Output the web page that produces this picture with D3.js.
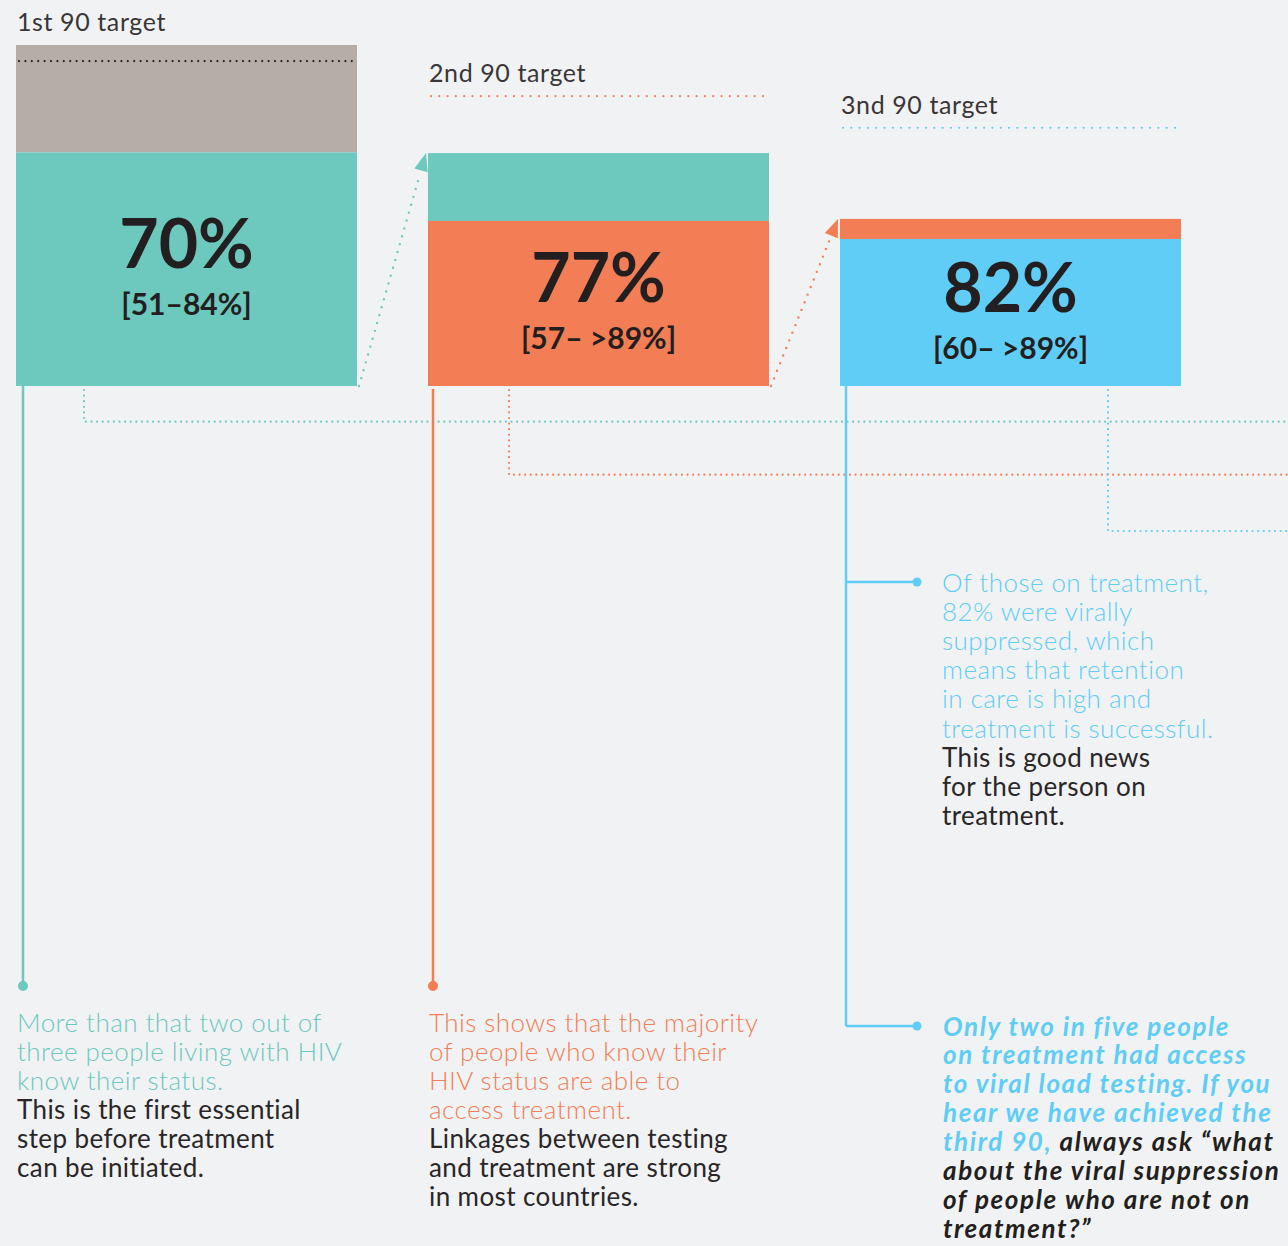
<!DOCTYPE html>
<html>
<head>
<meta charset="utf-8">
<script src="https://cdn.jsdelivr.net/npm/d3@7"></script>
<style>
  html, body { margin: 0; padding: 0; background: #F1F2F4; }
  svg { display: block; }
</style>
</head>
<body>
<svg id="chart" width="1288" height="1246"></svg>
<script>
// ---------------- DATA ----------------
const stages = ["1st 90 target", "2nd 90 target", "3nd 90 target"];
const headlineValues = [70, 77, 82];
const rangeLabels = ["[51–84%]", "[57– >89%]", "[60– >89%]"];
// drawn heights of each bar in the infographic's own vertical units (100 = top of first bar)
const barTotal = [100, 68.3, 49.0];    // top of the whole bar (carried-over block)
const barMain = [68.5, 48.4, 43.1];    // top of the main coloured segment
const targetLevel = [95.3, 85.0, 75.7]; // dotted 90-target line

const note1Highlight = ["More than that two out of", "three people living with HIV", "know their status."];
const note1Body = ["This is the first essential", "step before treatment", "can be initiated."];
const note2Highlight = ["This shows that the majority", "of people who know their", "HIV status are able to", "access treatment."];
const note2Body = ["Linkages between testing", "and treatment are strong", "in most countries."];
const note3Highlight = ["Of those on treatment,", "82% were virally", "suppressed, which", "means that retention", "in care is high and", "treatment is successful."];
const note3Body = ["This is good news", "for the person on", "treatment."];
const note4 = [
  [["Only two in five people", "hi"]],
  [["on treatment had access", "hi"]],
  [["to viral load testing. If you", "hi"]],
  [["hear we have achieved the", "hi"]],
  [["third 90, ", "hi"], ["always ask \u201Cwhat", "body"]],
  [["about the viral suppression", "body"]],
  [["of people who are not on", "body"]],
  [["treatment?\u201D", "body"]]
];

// ---------------- STYLE ----------------
const colTeal = "#6DC8BE", colOrange = "#F37E55", colBlue = "#5FCDF5", colGray = "#B5ADA8", colDark = "#231F20";
const stageColors = [colTeal, colOrange, colBlue];
const prevColors = [colGray, colTeal, colOrange];
const FONT = "Lato, 'Open Sans', sans-serif";

const svg = d3.select("#chart");

const x = d3.scaleBand().domain(stages).range([16, 1181]).paddingInner(71 / 412).paddingOuter(0);
const y = d3.scaleLinear().domain([0, 100]).range([386, 45]);
const bw = x.bandwidth();

const bars = stages.map((s, i) => ({
  stage: s, i,
  x0: x(s), x1: x(s) + bw,
  top: y(barTotal[i]), mid: y(barMain[i]), bottom: y(0),
  target: y(targetLevel[i])
}));

// carried-over (upper) segment
svg.selectAll("rect.upper").data(bars).join("rect")
  .attr("class", "upper")
  .attr("x", d => d.x0).attr("width", bw)
  .attr("y", d => d.top).attr("height", d => d.mid - d.top)
  .attr("fill", d => prevColors[d.i]);

// main segment
svg.selectAll("rect.main").data(bars).join("rect")
  .attr("class", "main")
  .attr("x", d => d.x0).attr("width", bw)
  .attr("y", d => d.mid).attr("height", d => d.bottom - d.mid)
  .attr("fill", d => stageColors[d.i]);

// target lines
svg.selectAll("line.target").data(bars).join("line")
  .attr("class", "target")
  .attr("x1", d => d.x0 + 3).attr("x2", d => d.x1 - 1)
  .attr("y1", d => d.target).attr("y2", d => d.target)
  .attr("stroke", d => d.i === 0 ? colDark : stageColors[d.i])
  .attr("stroke-width", 2.2)
  .attr("stroke-linecap", "round")
  .attr("stroke-dasharray", d => d.i === 0 ? "0 6.4" : "0 8.3");

// target labels
svg.selectAll("text.tlabel").data(bars).join("text")
  .attr("class", "tlabel")
  .attr("x", d => d.x0 + 1)
  .attr("y", d => Math.min(d.target, d.top) - 14)
  .attr("font-family", FONT).attr("font-weight", 400)
  .attr("font-size", 25).attr("letter-spacing", 0.6).attr("fill", "#3a3637")
  .text(d => d.stage);

// headline values
svg.selectAll("text.value").data(bars).join("text")
  .attr("class", "value")
  .attr("x", d => d.x0 + bw / 2)
  .attr("y", d => (d.mid + d.bottom) / 2 - 1)
  .attr("text-anchor", "middle")
  .attr("font-family", FONT).attr("font-weight", 700)
  .attr("font-size", 68).attr("fill", colDark)
  .text(d => headlineValues[d.i] + "%");

svg.selectAll("text.range").data(bars).join("text")
  .attr("class", "range")
  .attr("x", d => d.x0 + bw / 2)
  .attr("y", d => (d.mid + d.bottom) / 2 + 46)
  .attr("text-anchor", "middle")
  .attr("font-family", FONT).attr("font-weight", 700)
  .attr("font-size", 30).attr("fill", colDark)
  .text(d => rangeLabels[d.i]);

// diagonal dotted arrows between bars
for (let i = 0; i < bars.length - 1; i++) {
  const a = bars[i], b = bars[i + 1];
  const sx = a.x1 + 2, sy = a.bottom, tx = b.x0 - 2, ty = b.top;
  const L = Math.hypot(tx - sx, ty - sy);
  const ux = (tx - sx) / L, uy = (ty - sy) / L;
  const bx = tx - 18 * ux, by = ty - 18 * uy;
  const px = -uy, py = ux;
  svg.append("line")
    .attr("x1", sx).attr("y1", sy).attr("x2", bx - 3 * ux).attr("y2", by - 3 * uy)
    .attr("stroke", stageColors[i]).attr("stroke-width", 2.4)
    .attr("stroke-linecap", "round").attr("stroke-dasharray", "0 8.2");
  svg.append("path")
    .attr("d", `M${tx},${ty}L${bx + 7 * px},${by + 7 * py}L${bx - 7 * px},${by - 7 * py}Z`)
    .attr("fill", stageColors[i]);
}

// dotted elbow connectors running off to the right
const elbowOffset = [68, 81, 268];
const elbowY = [421.7, 474.7, 531];
bars.forEach((d, i) => {
  const ex = d.x0 + elbowOffset[i];
  svg.append("path")
    .attr("d", `M${ex},${d.bottom + 4}V${elbowY[i]}H1292`)
    .attr("fill", "none").attr("stroke", stageColors[i])
    .attr("stroke-width", 2.2).attr("stroke-linecap", "round")
    .attr("stroke-dasharray", "0 5.6");
});

// solid leader lines with dots
const leadX = [7, 5, 6];
const leadStart = [0, 3, 0];
const leadEnd = [986, 986, 1026];
bars.forEach((d, i) => {
  const lx = d.x0 + leadX[i];
  svg.append("line")
    .attr("x1", lx).attr("x2", lx)
    .attr("y1", d.bottom + leadStart[i]).attr("y2", leadEnd[i])
    .attr("stroke", stageColors[i]).attr("stroke-width", 2.5);
  if (i < 2) {
    svg.append("circle").attr("cx", lx).attr("cy", leadEnd[i]).attr("r", 5).attr("fill", stageColors[i]);
  }
});
// blue branches
const blueX = bars[2].x0 + leadX[2];
[582, 1026].forEach(by => {
  svg.append("line").attr("x1", blueX).attr("x2", 917).attr("y1", by).attr("y2", by)
    .attr("stroke", colBlue).attr("stroke-width", 2.5);
  svg.append("circle").attr("cx", 917).attr("cy", by).attr("r", 4.5).attr("fill", colBlue);
});

// notes
function note(xp, y0, lh, hiLines, bodyLines, hiColor) {
  const t = svg.append("text").attr("font-family", FONT).attr("font-size", 26);
  hiLines.forEach((l, k) => {
    t.append("tspan").attr("x", xp).attr("y", y0 + k * lh)
      .attr("fill", hiColor).attr("font-weight", 300).attr("letter-spacing", 0.45).text(l);
  });
  bodyLines.forEach((l, k) => {
    t.append("tspan").attr("x", xp).attr("y", y0 + (hiLines.length + k) * lh)
      .attr("fill", "#2a2627").attr("font-weight", 400).attr("letter-spacing", 0.4).text(l);
  });
}
note(17, 1031.5, 29.1, note1Highlight, note1Body, colTeal);
note(429, 1031.5, 29.1, note2Highlight, note2Body, colOrange);
note(942, 591.5, 29.2, note3Highlight, note3Body, colBlue);

const t4 = svg.append("text").attr("font-family", FONT).attr("font-size", 26)
  .attr("font-style", "italic").attr("font-weight", 700).attr("letter-spacing", 1.6);
note4.forEach((line, k) => {
  const ln = t4.append("tspan").attr("x", 943).attr("y", 1035.5 + k * 28.9);
  line.forEach(([txt, kind], j) => {
    const sp = j === 0 ? ln : t4.append("tspan");
    sp.text(txt).attr("fill", kind === "hi" ? colBlue : colDark);
  });
});
</script>
</body>
</html>
